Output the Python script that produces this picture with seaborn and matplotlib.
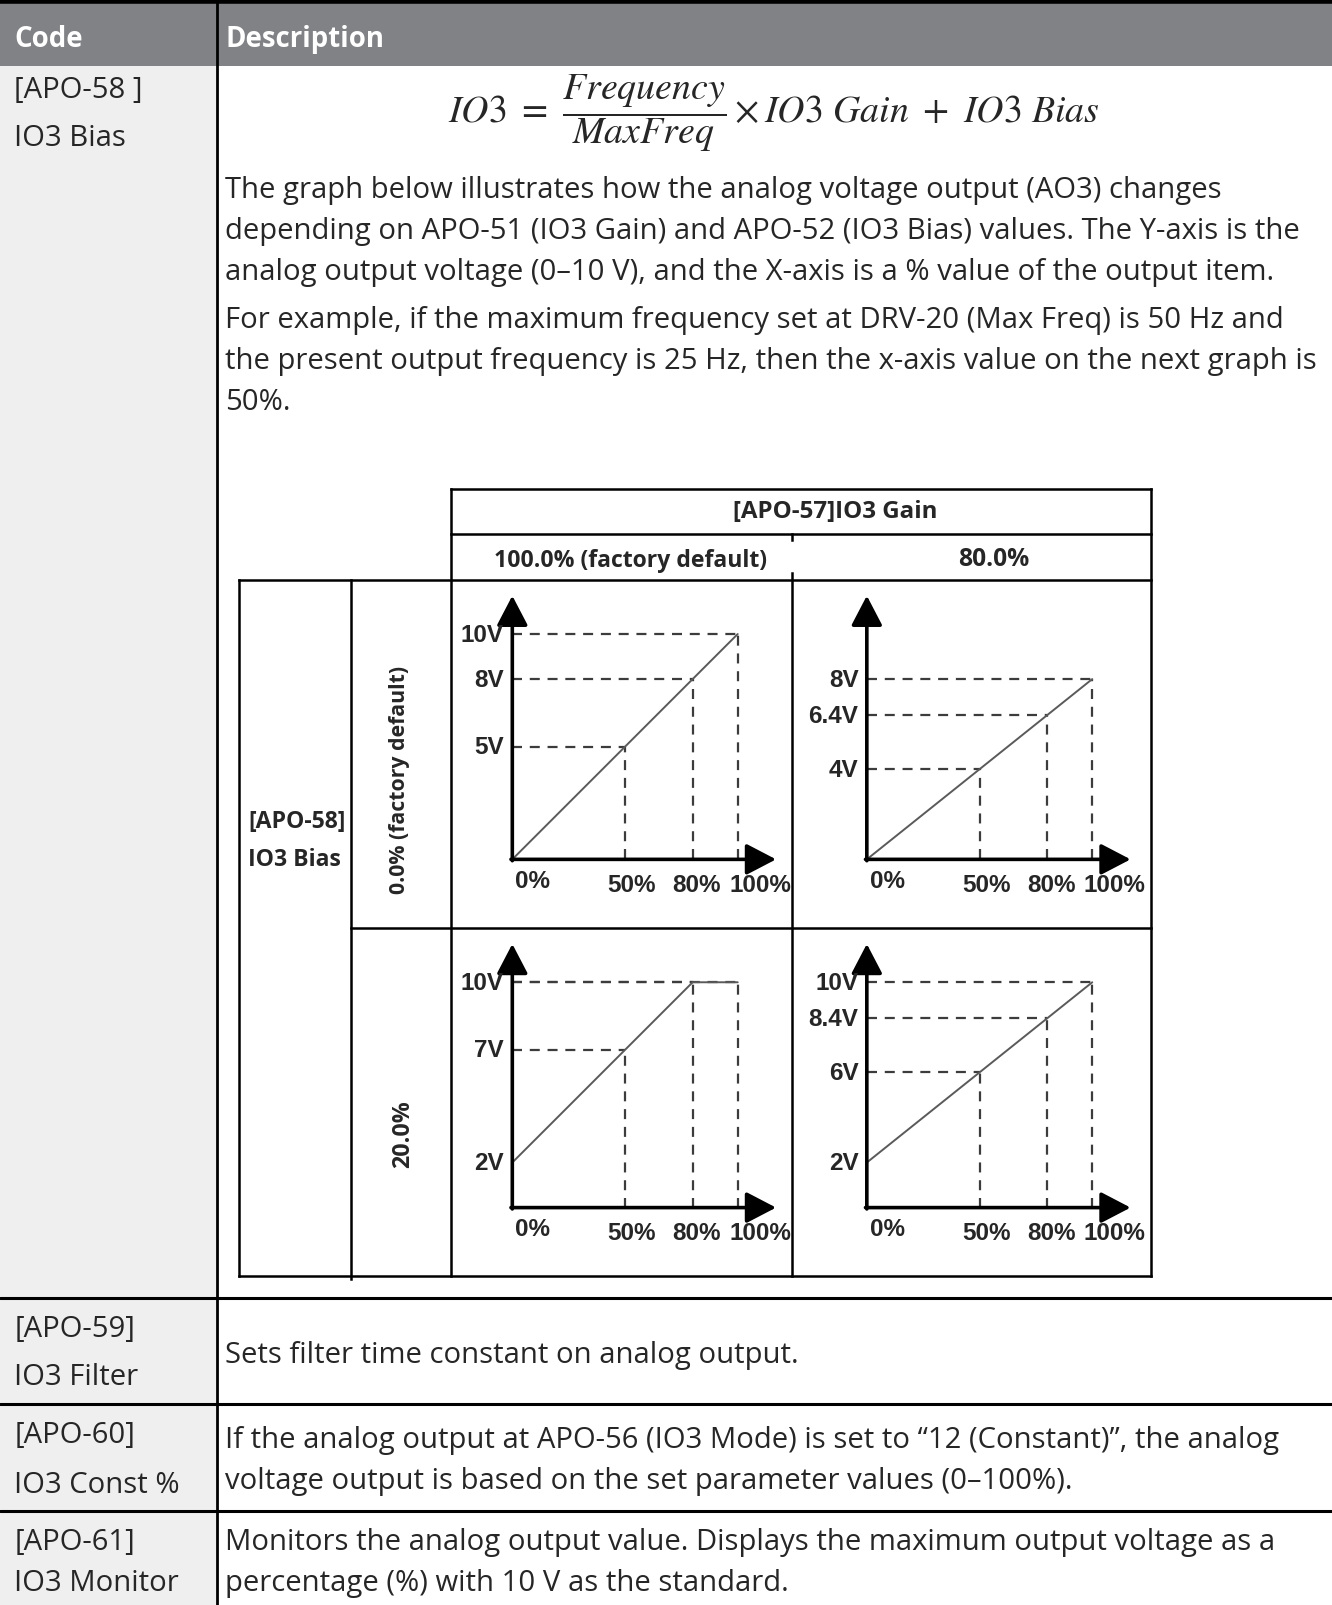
import matplotlib
matplotlib.use("Agg")
import matplotlib.pyplot as plt
import seaborn as sns

# chart data (x = % of output item, y = analog output voltage)
pct = [0, 50, 80, 100]
volts_g100_b0 = [0, 5, 8, 10]
volts_g80_b0 = [0, 4, 6.4, 8]
volts_g100_b20 = [2, 7, 10, 10]
volts_g80_b20 = [2, 6, 8.4, 10]
x_tick_labels = ["0%", "50%", "80%", "100%"]

gain_title = "[APO-57]IO3 Gain"
gain_labels = ["100.0% (factory default)", "80.0%"]
bias_title = ["[APO-58]", "IO3 Bias"]
bias_labels = ["0.0% (factory default)", "20.0%"]

header = ["Code", "Description"]
code_rows = [["[APO-58 ]", "IO3 Bias"],
             ["[APO-59]", "IO3 Filter"],
             ["[APO-60]", "IO3 Const %"],
             ["[APO-61]", "IO3 Monitor"]]
intro_lines = [
    "The graph below illustrates how the analog voltage output (AO3) changes",
    "depending on APO-51 (IO3 Gain) and APO-52 (IO3 Bias) values. The Y-axis is the",
    "analog output voltage (0\u201310 V), and the X-axis is a % value of the output item.",
]
example_lines = [
    "For example, if the maximum frequency set at DRV-20 (Max Freq) is 50 Hz and",
    "the present output frequency is 25 Hz, then the x-axis value on the next graph is",
    "50%.",
]
row_texts = [
    ["Sets filter time constant on analog output."],
    ["If the analog output at APO-56 (IO3 Mode) is set to \u201c12 (Constant)\u201d, the analog",
     "voltage output is based on the set parameter values (0\u2013100%)."],
    ["Monitors the analog output value. Displays the maximum output voltage as a",
     "percentage (%) with 10 V as the standard."],
]
formula = r"$IO3\ =\ \dfrac{Frequency}{MaxFreq}\times IO3\ Gain\ +\ IO3\ Bias$"

sns.set_theme(style="white")
plt.rcParams["font.family"] = ["Open Sans", "DejaVu Sans"]
plt.rcParams["mathtext.fontset"] = "stix"
tick_family = ["Liberation Sans", "DejaVu Sans"]

# layout works in a 1300x1568 grid, scaled onto the 1332x1606 canvas
W, H = 1300, 1568
S = 1332 / W


def pt(px):
    return px * S * 72 / 100


fig = plt.figure(figsize=(13.32, 16.06), dpi=100)
bg = fig.add_axes([0, 0, 1, 1])
bg.set_xlim(0, W)
bg.set_ylim(H, 0)
bg.axis("off")

# table frame
bg.fill_between([0, W], 4, 65, color="#808285", lw=0)
bg.fill_between([0, 212], 65, H, color="#efefef", lw=0)
bg.plot([0, W], [2, 2], color="black", lw=4)
bg.plot([212, 212], [4, H], color="black", lw=2)
for y in [1268, 1372, 1476]:
    bg.plot([0, W], [y, y], color="black", lw=2.2)

bg.text(14, 39, header[0], color="white", fontsize=pt(27), fontweight="bold", va="center")
bg.text(220, 39, header[1], color="white", fontsize=pt(27), fontweight="bold", va="center")

body_fs = pt(28.6)
code_y = [(88, 135), (1298, 1345), (1402, 1450), (1506, 1546)]
for (a, b), (ya, yb) in zip(code_rows, code_y):
    bg.text(14, ya, a, fontsize=body_fs, va="center")
    bg.text(14, yb, b, fontsize=body_fs, va="center")

bg.text(755, 110, formula, fontsize=pt(37), ha="center", va="center")
for i, line in enumerate(intro_lines):
    bg.text(220, 186 + 40 * i, line, fontsize=body_fs, va="center")
for i, line in enumerate(example_lines):
    bg.text(220, 313 + 40 * i, line, fontsize=body_fs, va="center")
row_y = [[1323], [1406, 1446], [1506, 1546]]
for lines, ys in zip(row_texts, row_y):
    for line, y in zip(lines, ys):
        bg.text(220, y, line, fontsize=body_fs, va="center")

# diagram grid
lw_grid = 1.8
segs = [
    ([440, 1123], [478, 478]), ([440, 1123], [522, 522]),
    ([233, 1123], [567, 567]), ([343, 1123], [907, 907]),
    ([233, 1123], [1247, 1247]),
    ([440, 440], [478, 1247]), ([1123, 1123], [478, 1247]),
    ([233, 233], [567, 1247]), ([343, 343], [567, 1250]),
    ([773, 773], [522, 528]), ([773, 773], [560, 1247]),
]
for xs, ys in segs:
    bg.plot(xs, ys, color="black", lw=lw_grid, solid_capstyle="projecting")

bg.text(815, 500, gain_title, fontsize=pt(23.5), fontweight="bold", ha="center", va="center")
bg.text(615, 548, gain_labels[0], fontsize=pt(22.5), fontweight="bold", ha="center", va="center")
bg.text(970, 546, gain_labels[1], fontsize=pt(24), fontweight="bold", ha="center", va="center")
bg.text(242, 803, bias_title[0], fontsize=pt(22.5), fontweight="bold", va="center")
bg.text(242, 840, bias_title[1], fontsize=pt(22.5), fontweight="bold", va="center")
bg.text(390, 761, bias_labels[0], fontsize=pt(20.8), fontweight="bold", rotation=90,
        ha="center", va="center")
bg.text(393, 1107, bias_labels[1], fontsize=pt(22.7), fontweight="bold", rotation=90,
        ha="center", va="center")

# mini charts: origin position in grid px, 2.2 px per %, 22 px per volt
XMAX, YMAX = 117, 11.7
charts = [
    ((500, 840), volts_g100_b0),
    ((846, 840), volts_g80_b0),
    ((500, 1180), volts_g100_b20),
    ((846, 1180), volts_g80_b20),
]
# hand-set nudges of the x labels (points), as in the drawing
label_nudge = [2, 5, 3, 16]
for (ox, oy), volts in charts:
    w, h = XMAX * 2.2, YMAX * 22
    ax = fig.add_axes([ox / W, 1 - oy / H, w / W, h / H])
    ax.set_xlim(0, XMAX)
    ax.set_ylim(0, YMAX)
    ax.axis("off")

    # dashed guides to each point
    for xv, yv in zip(pct[1:], volts[1:]):
        ax.plot([0, xv], [yv, yv], color="#3c3c3c", lw=1.6, ls=(0, (4.5, 3.5)))
        ax.plot([xv, xv], [0, yv], color="#3c3c3c", lw=1.6, ls=(0, (4.5, 3.5)))

    sns.lineplot(x=pct, y=volts, ax=ax, color="#5a5a5a", lw=1.4)

    arrow = dict(arrowstyle="-|>,head_length=0.92,head_width=0.48", mutation_scale=20,
                 color="black", lw=2.6, shrinkA=0, shrinkB=0)
    ax.annotate("", xy=(0, YMAX), xytext=(0, -0.06), arrowprops=arrow, annotation_clip=False)
    ax.annotate("", xy=(XMAX, 0), xytext=(-0.6, 0), arrowprops=arrow, annotation_clip=False)

    for yv in sorted(set(v for v in volts if v > 0)):
        ax.annotate(f"{yv:g}V", xy=(0, yv), xytext=(-6, 0), textcoords="offset points",
                    ha="right", va="center", fontsize=17.5, fontweight="bold",
                    family=tick_family, annotation_clip=False)
    for xv, lab, nd in zip(pct, x_tick_labels, label_nudge):
        ha = "left" if xv == 0 else "center"
        dy = -15 if xv == 0 else -18
        ax.annotate(lab, xy=(xv, 0), xytext=(nd, dy),
                    textcoords="offset points", ha=ha, va="center", fontsize=17.5,
                    fontweight="bold", family=tick_family, annotation_clip=False)

fig.savefig("out.png", dpi=100)
